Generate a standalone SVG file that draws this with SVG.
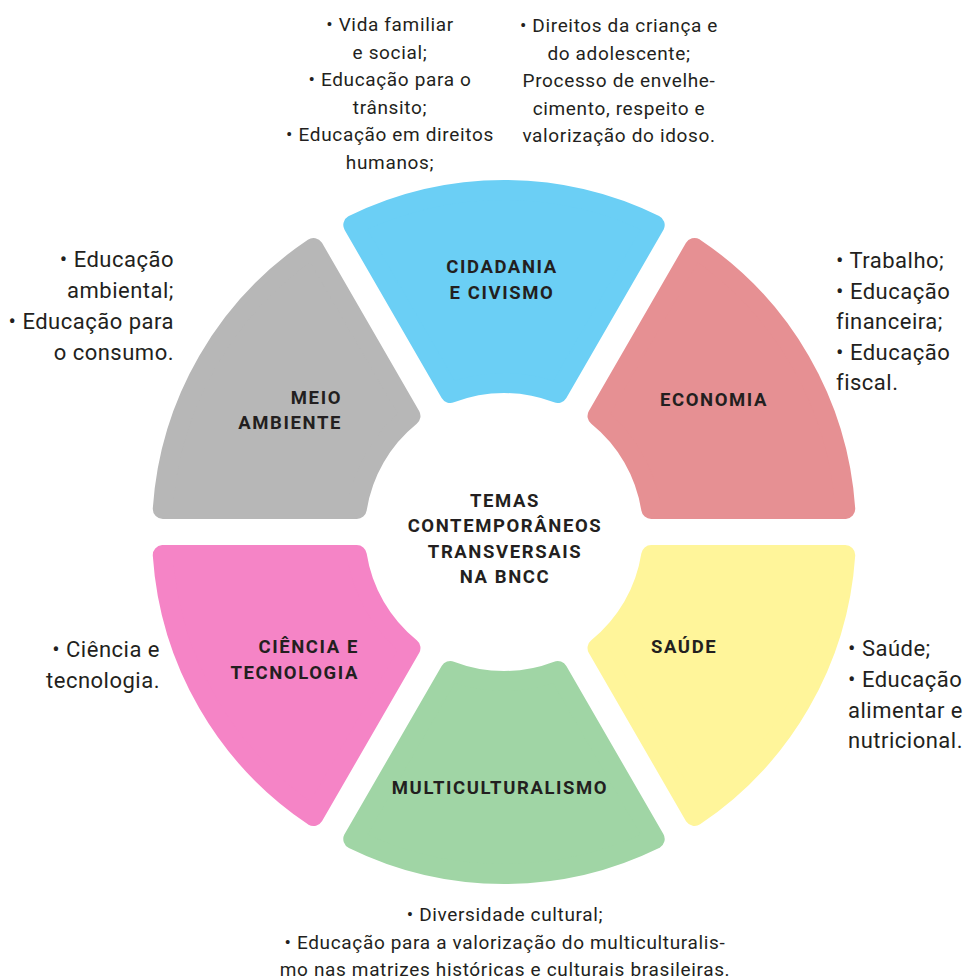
<svg xmlns="http://www.w3.org/2000/svg" width="965" height="980" viewBox="0 0 965 980">
<defs>
<style>
.seg{stroke-width:20;stroke-linejoin:round}
.lbl{font-family:Roboto,"Liberation Sans",sans-serif;font-weight:700;font-size:18.5px;fill:#231f20;letter-spacing:1.6px}
.txt{font-family:Roboto,"Liberation Sans",sans-serif;font-size:19px;fill:#231f20;letter-spacing:0.65px}
.txtl{font-family:Roboto,"Liberation Sans",sans-serif;font-size:22px;fill:#231f20;letter-spacing:0.5px}
</style>
</defs>
<rect width="965" height="980" fill="#ffffff"/>
<g id="cidadania">
<path class="seg" fill="#6bcff5" stroke="#6bcff5" d="M353.30,224.99 A342,342 0 0 1 654.70,224.99 L557.69,393.02 A149,149 0 0 0 450.31,393.02 Z"/>
<text class="lbl" text-anchor="middle" x="502" y="273">CIDADANIA</text>
<text class="lbl" text-anchor="middle" x="502" y="299">E CIVISMO</text>
</g>
<g id="economia">
<path class="seg" fill="#e69093" stroke="#e69093" d="M694.53,247.99 A342,342 0 0 1 845.23,509 L651.21,509 A149,149 0 0 0 597.52,416.02 Z"/>
<text class="lbl" text-anchor="middle" x="714" y="406">ECONOMIA</text>
</g>
<g id="saude">
<path class="seg" fill="#fff59a" stroke="#fff59a" d="M845.23,555 A342,342 0 0 1 694.53,816.01 L597.52,647.98 A149,149 0 0 0 651.21,555 Z"/>
<text class="lbl" x="651" y="653">SAÚDE</text>
</g>
<g id="multiculturalismo">
<path class="seg" fill="#a0d5a5" stroke="#a0d5a5" d="M654.70,839.01 A342,342 0 0 1 353.30,839.01 L450.31,670.98 A149,149 0 0 0 557.69,670.98 Z"/>
<text class="lbl" text-anchor="middle" x="500" y="794">MULTICULTURALISMO</text>
</g>
<g id="ciencia">
<path class="seg" fill="#f584c6" stroke="#f584c6" d="M313.47,816.01 A342,342 0 0 1 162.77,555 L356.79,555 A149,149 0 0 0 410.48,647.98 Z"/>
<text class="lbl" text-anchor="end" x="359" y="653">CIÊNCIA E</text>
<text class="lbl" text-anchor="end" x="359" y="679">TECNOLOGIA</text>
</g>
<g id="meio-ambiente">
<path class="seg" fill="#b7b7b7" stroke="#b7b7b7" d="M162.77,509 A342,342 0 0 1 313.47,247.99 L410.48,416.02 A149,149 0 0 0 356.79,509 Z"/>
<text class="lbl" text-anchor="end" x="342" y="404">MEIO</text>
<text class="lbl" text-anchor="end" x="342" y="429">AMBIENTE</text>
</g>
<g id="centro">
<text class="lbl" text-anchor="middle" x="505" y="507">TEMAS</text>
<text class="lbl" text-anchor="middle" x="505" y="532">CONTEMPORÂNEOS</text>
<text class="lbl" text-anchor="middle" x="505" y="558">TRANSVERSAIS</text>
<text class="lbl" text-anchor="middle" x="505" y="583">NA BNCC</text>
</g>
<g id="texto-cidadania-1" class="txt" text-anchor="middle">
<text x="390" y="31">• Vida familiar</text>
<text x="390" y="58.5">e social;</text>
<text x="390" y="86">• Educação para o</text>
<text x="390" y="113.5">trânsito;</text>
<text x="390" y="141">• Educação em direitos</text>
<text x="390" y="168.5">humanos;</text>
</g>
<g id="texto-cidadania-2" class="txt" text-anchor="middle">
<text x="619" y="32">• Direitos da criança e</text>
<text x="619" y="59.5">do adolescente;</text>
<text x="619" y="87">Processo de envelhe-</text>
<text x="619" y="114.5">cimento, respeito e</text>
<text x="619" y="142">valorização do idoso.</text>
</g>
<g id="texto-meio-ambiente" class="txtl" text-anchor="end">
<text x="174" y="267">• Educação</text>
<text x="174" y="298">ambiental;</text>
<text x="174" y="329">• Educação para</text>
<text x="174" y="360">o consumo.</text>
</g>
<g id="texto-economia" class="txtl">
<text x="836" y="268">• Trabalho;</text>
<text x="836" y="298.5">• Educação</text>
<text x="836" y="329">financeira;</text>
<text x="836" y="359.5">• Educação</text>
<text x="836" y="390">fiscal.</text>
</g>
<g id="texto-ciencia" class="txtl" text-anchor="end">
<text x="160" y="657">• Ciência e</text>
<text x="160" y="688">tecnologia.</text>
</g>
<g id="texto-saude" class="txtl">
<text x="848" y="656">• Saúde;</text>
<text x="848" y="687">• Educação</text>
<text x="848" y="718">alimentar e</text>
<text x="848" y="748">nutricional.</text>
</g>
<g id="texto-multiculturalismo" class="txt" text-anchor="middle">
<text x="505" y="921">• Diversidade cultural;</text>
<text x="505" y="949">• Educação para a valorização do multiculturalis-</text>
<text x="505" y="976">mo nas matrizes históricas e culturais brasileiras.</text>
</g>
</svg>
